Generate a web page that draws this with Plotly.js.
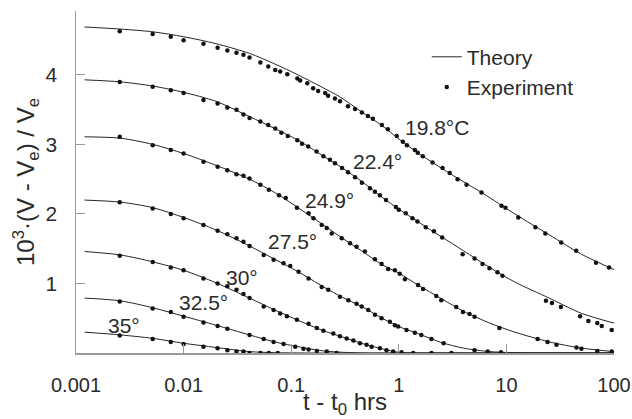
<!DOCTYPE html>
<html>
<head>
<meta charset="utf-8">
<script src="https://cdn.plot.ly/plotly-3.0.1.min.js"></script>
<style>html,body{margin:0;padding:0;background:#fff;}#chart{width:632px;height:419px;}</style>
</head>
<body>
<div id="chart"></div>
<script>
// ---- Theory curves (t in hrs, value = 10^3 (V-Ve)/Ve) ----
const th198_t = [0.0012, 0.0026, 0.0052, 0.01, 0.02, 0.041, 0.07, 0.116, 0.19, 0.28, 0.44, 0.7, 1.0, 1.5, 3.0, 6, 12, 25, 50, 100];
const th198_y = [4.69, 4.66, 4.62, 4.55, 4.45, 4.31, 4.16, 4.00, 3.83, 3.69, 3.48, 3.27, 3.08, 2.88, 2.58, 2.30, 2.00, 1.70, 1.42, 1.20];
const th224_t = [0.0012, 0.0026, 0.0052, 0.01, 0.02, 0.041, 0.07, 0.116, 0.2, 0.3, 0.45, 0.7, 1.0, 1.5, 2.5, 4, 7, 12, 25, 50, 100];
const th224_y = [3.93, 3.90, 3.84, 3.75, 3.62, 3.40, 3.23, 3.06, 2.83, 2.66, 2.47, 2.24, 2.07, 1.89, 1.67, 1.47, 1.23, 1.02, 0.79, 0.57, 0.43];
const th249_t = [0.0012, 0.0026, 0.0052, 0.01, 0.02, 0.041, 0.07, 0.116, 0.2, 0.3, 0.45, 0.7, 1.0, 1.5, 2.5, 4, 7, 12, 25, 50, 100];
const th249_y = [3.11, 3.09, 3.00, 2.87, 2.70, 2.50, 2.31, 2.09, 1.84, 1.65, 1.47, 1.27, 1.15, 0.98, 0.78, 0.60, 0.43, 0.30, 0.16, 0.07, 0.02];
const th275_t = [0.0012, 0.0026, 0.0052, 0.01, 0.02, 0.041, 0.07, 0.116, 0.2, 0.3, 0.45, 0.7, 1.0, 1.5, 2.5, 4, 7, 12, 25, 100];
const th275_y = [2.20, 2.17, 2.09, 1.95, 1.77, 1.54, 1.35, 1.17, 0.95, 0.80, 0.67, 0.50, 0.38, 0.28, 0.15, 0.07, 0.02, 0.005, 0.0, 0.0];
const th30_t = [0.0012, 0.0026, 0.0052, 0.01, 0.02, 0.041, 0.07, 0.116, 0.2, 0.3, 0.45, 0.7, 1.0, 1.5, 3, 100];
const th30_y = [1.46, 1.41, 1.31, 1.19, 1.01, 0.79, 0.62, 0.47, 0.32, 0.23, 0.14, 0.06, 0.01, 0.0, 0.0, 0.0];
const th325_t = [0.0012, 0.0026, 0.0052, 0.01, 0.02, 0.041, 0.07, 0.116, 0.2, 0.3, 0.5, 1, 100];
const th325_y = [0.79, 0.75, 0.65, 0.53, 0.40, 0.26, 0.16, 0.09, 0.03, 0.01, 0.0, 0.0, 0.0];
const th35_t = [0.0012, 0.0026, 0.0052, 0.01, 0.02, 0.041, 0.07, 0.15, 100];
const th35_y = [0.30, 0.26, 0.21, 0.14, 0.08, 0.02, 0.005, 0.0, 0.0];

// ---- Experimental points ----
const ex198_t = [0.00255, 0.00516, 0.0076, 0.0100, 0.0153, 0.0207, 0.0255, 0.031, 0.036, 0.041, 0.0517, 0.0612, 0.0711, 0.079, 0.092, 0.114, 0.121, 0.141, 0.160, 0.178, 0.207, 0.220, 0.255, 0.284, 0.337, 0.392, 0.454, 0.516, 0.574, 0.696, 0.791, 0.958, 1.09, 1.19, 1.41, 1.50, 1.67, 2.06, 2.55, 2.97, 3.52, 4.26, 5.87, 9.0, 9.8, 12.9, 18.6, 23.0, 32.3, 44.5, 68.1, 89.9];
const ex198_y = [4.63, 4.59, 4.55, 4.50, 4.45, 4.39, 4.35, 4.32, 4.29, 4.25, 4.18, 4.12, 4.07, 4.05, 4.01, 3.95, 3.92, 3.88, 3.81, 3.77, 3.74, 3.70, 3.66, 3.62, 3.55, 3.51, 3.46, 3.41, 3.37, 3.28, 3.22, 3.12, 3.04, 2.99, 2.92, 2.88, 2.83, 2.74, 2.66, 2.59, 2.50, 2.42, 2.31, 2.12, 2.09, 1.95, 1.81, 1.72, 1.59, 1.47, 1.30, 1.23];
const ex224_t = [0.00255, 0.00516, 0.0076, 0.0100, 0.0153, 0.0207, 0.0255, 0.031, 0.036, 0.041, 0.0517, 0.0612, 0.0711, 0.081, 0.093, 0.114, 0.126, 0.144, 0.172, 0.199, 0.229, 0.255, 0.297, 0.337, 0.392, 0.454, 0.539, 0.60, 0.667, 0.76, 0.94, 1.0, 1.16, 1.34, 1.49, 1.78, 2.12, 2.53, 3.92, 5.06, 6.0, 6.96, 8.26, 9.19, 23.3, 26.5, 32.1, 48.4, 57.8, 70, 76.9, 95.2];
const ex224_y = [3.90, 3.83, 3.78, 3.74, 3.64, 3.59, 3.53, 3.50, 3.43, 3.38, 3.33, 3.28, 3.23, 3.17, 3.12, 3.06, 3.01, 2.97, 2.90, 2.83, 2.78, 2.73, 2.66, 2.60, 2.53, 2.45, 2.37, 2.32, 2.27, 2.20, 2.10, 2.06, 2.01, 1.94, 1.89, 1.81, 1.75, 1.66, 1.42, 1.36, 1.28, 1.22, 1.16, 1.11, 0.75, 0.72, 0.66, 0.53, 0.46, 0.43, 0.39, 0.33];
const ex249_t = [0.00255, 0.00516, 0.0076, 0.0100, 0.0153, 0.0207, 0.0255, 0.031, 0.036, 0.041, 0.0517, 0.062, 0.077, 0.089, 0.113, 0.145, 0.161, 0.192, 0.214, 0.238, 0.295, 0.352, 0.405, 0.484, 0.600, 0.692, 0.797, 0.919, 1.02, 1.14, 1.51, 1.68, 2.23, 2.48, 3.42, 3.94, 4.54, 5.06, 8.6, 19.5, 24.1, 29.2, 44.8, 49.8, 70, 95.3];
const ex249_y = [3.11, 2.99, 2.92, 2.87, 2.75, 2.68, 2.63, 2.57, 2.55, 2.51, 2.42, 2.35, 2.27, 2.23, 2.09, 2.01, 1.94, 1.84, 1.80, 1.72, 1.65, 1.58, 1.53, 1.46, 1.35, 1.28, 1.21, 1.19, 1.14, 1.06, 0.98, 0.92, 0.82, 0.76, 0.66, 0.59, 0.56, 0.52, 0.36, 0.20, 0.16, 0.12, 0.08, 0.06, 0.03, 0.02];
const ex275_t = [0.00255, 0.00516, 0.0076, 0.0100, 0.0153, 0.0207, 0.0255, 0.031, 0.036, 0.041, 0.0555, 0.0686, 0.0849, 0.098, 0.117, 0.145, 0.192, 0.221, 0.284, 0.340, 0.405, 0.452, 0.520, 0.600, 0.692, 0.826, 0.919, 0.986, 1.18, 1.41, 1.62, 2.01, 2.61, 5.06, 6.7, 8.9];
const ex275_y = [2.17, 2.08, 2.00, 1.94, 1.84, 1.76, 1.71, 1.65, 1.60, 1.54, 1.41, 1.34, 1.29, 1.25, 1.17, 1.07, 0.95, 0.91, 0.81, 0.76, 0.71, 0.67, 0.62, 0.55, 0.50, 0.45, 0.40, 0.38, 0.33, 0.29, 0.26, 0.20, 0.14, 0.04, 0.02, 0.01];
const ex30_t = [0.00255, 0.00516, 0.0076, 0.0100, 0.0153, 0.0207, 0.0255, 0.031, 0.036, 0.041, 0.0555, 0.0686, 0.079, 0.0912, 0.113, 0.145, 0.173, 0.199, 0.246, 0.284, 0.328, 0.378, 0.436, 0.502, 0.559, 0.667, 0.769, 0.886, 1.06, 1.36, 2.01, 3.08];
const ex30_y = [1.40, 1.31, 1.23, 1.19, 1.07, 1.00, 0.96, 0.91, 0.85, 0.79, 0.67, 0.62, 0.57, 0.53, 0.48, 0.42, 0.36, 0.32, 0.28, 0.24, 0.21, 0.18, 0.14, 0.12, 0.09, 0.07, 0.04, 0.02, 0.01, 0.0, 0.0, 0.0];
const ex325_t = [0.00255, 0.00516, 0.0076, 0.0100, 0.0153, 0.0207, 0.0255, 0.041, 0.0555, 0.0686, 0.0849, 0.109, 0.130, 0.145, 0.173, 0.214, 0.264];
const ex325_y = [0.74, 0.64, 0.59, 0.52, 0.44, 0.39, 0.35, 0.26, 0.20, 0.16, 0.13, 0.09, 0.06, 0.05, 0.03, 0.02, 0.0];
const ex35_t = [0.00255, 0.00516, 0.0076, 0.0100, 0.0153, 0.0207, 0.0255, 0.031, 0.036, 0.041, 0.0517, 0.062, 0.075];
const ex35_y = [0.25, 0.20, 0.16, 0.13, 0.09, 0.07, 0.04, 0.02, 0.02, 0.0, 0.0, 0.0, 0.0];

// ---- Labels ----
const xTickVals = [0.001, 0.01, 0.1, 1, 10, 100];
const xTickText = ['0.001', '0.01', '0.1', '1', '10', '100'];
const yTickVals = [1, 2, 3, 4];
const yTickText = ['1', '2', '3', '4'];
const tempLabels = ['19.8\u00B0C', '22.4\u00B0', '24.9\u00B0', '27.5\u00B0', '30\u00B0', '32.5\u00B0', '35\u00B0'];

const theory = [[th198_t, th198_y], [th224_t, th224_y], [th249_t, th249_y], [th275_t, th275_y], [th30_t, th30_y], [th325_t, th325_y], [th35_t, th35_y]];
const expts = [[ex198_t, ex198_y], [ex224_t, ex224_y], [ex249_t, ex249_y], [ex275_t, ex275_y], [ex30_t, ex30_y], [ex325_t, ex325_y], [ex35_t, ex35_y]];

// label anchor positions (log10 t, value)
const labelPos = [[0.352, 3.24], [-0.194, 2.76], [-0.648, 2.20], [-0.991, 1.61], [-1.454, 1.09], [-1.815, 0.72], [-2.556, 0.40]];

const FONT = 'Liberation Sans, Arial, Helvetica, sans-serif';
const TXT = '#2b2b2b';
const FS = 21;
const TFS = 24;

const traces = [];
theory.forEach((s, i) => {
  traces.push({
    x: s[0], y: s[1], type: 'scatter', mode: 'lines',
    line: {color: '#262626', width: 1, shape: 'spline', smoothing: 0.8},
    name: 'Theory', legendgroup: 'th', showlegend: i === 0, hoverinfo: 'skip'
  });
});
expts.forEach((s, i) => {
  traces.push({
    x: s[0], y: s[1], type: 'scatter', mode: 'markers',
    marker: {color: '#111', size: 4.5, symbol: 'circle'},
    name: 'Experiment', legendgroup: 'ex', showlegend: i === 0, hoverinfo: 'skip'
  });
});

const annotations = tempLabels.map((t, i) => ({
  x: labelPos[i][0], y: labelPos[i][1], xref: 'x', yref: 'y', text: t, showarrow: false,
  font: {family: FONT, size: FS, color: TXT}, xanchor: 'center', yanchor: 'middle'
}));

const layout = {
  width: 632, height: 419,
  margin: {l: 76, r: 18, t: 11, b: 66},
  paper_bgcolor: '#fff', plot_bgcolor: '#fff',
  font: {family: FONT, size: FS, color: TXT},
  showlegend: true,
  legend: {x: 0.652, y: 0.925, xanchor: 'left', yanchor: 'top', bgcolor: 'rgba(0,0,0,0)',
           font: {family: FONT, size: FS, color: TXT}, tracegroupgap: 0, itemwidth: 30},
  xaxis: {
    type: 'log', range: [-3, 2], tickvals: xTickVals, ticktext: xTickText,
    ticks: 'inside', ticklen: 9, tickcolor: '#9a9a9a', tickwidth: 1,
    showline: true, linecolor: '#9a9a9a', linewidth: 1.5, showgrid: false, zeroline: false,
    tickfont: {family: FONT, size: 20, color: TXT}, ticklabelstandoff: 13, ticklabeloverflow: 'allow',
    title: {text: 't - t<sub>0</sub> hrs', font: {family: FONT, size: TFS, color: TXT}, standoff: 2}
  },
  yaxis: {
    range: [0, 4.92], tickvals: yTickVals, ticktext: yTickText,
    ticks: 'inside', ticklen: 9, tickcolor: '#9a9a9a', tickwidth: 1,
    showline: true, linecolor: '#9a9a9a', linewidth: 1.5, showgrid: false, zeroline: false,
    tickfont: {family: FONT, size: FS, color: TXT}, ticklabelstandoff: 13,
    title: {text: '10<sup>3</sup>\u00B7(V - V<sub>e</sub>) / V<sub>e</sub>', font: {family: FONT, size: TFS, color: TXT}, standoff: 4}
  },
  annotations: annotations
};

Plotly.newPlot('chart', traces, layout, {staticPlot: true, displayModeBar: false});
</script>
</body>
</html>
